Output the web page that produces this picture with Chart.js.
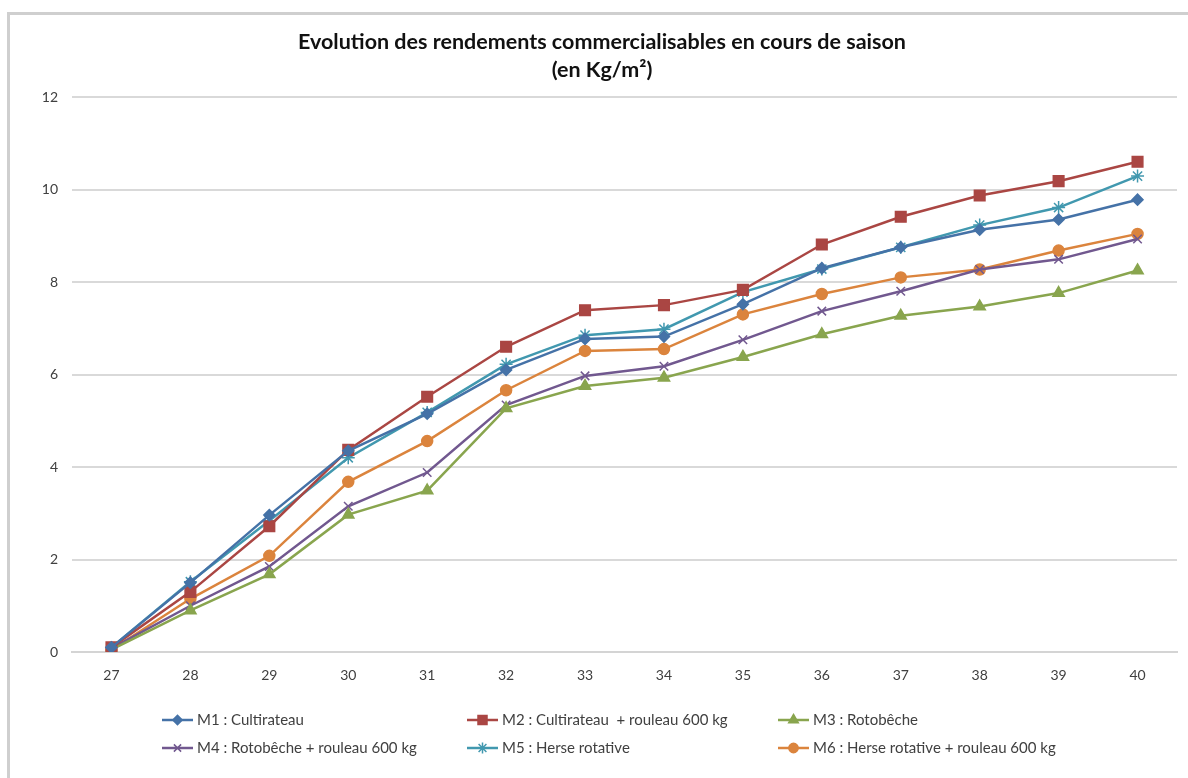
<!DOCTYPE html>
<html lang="fr">
<head>
<meta charset="utf-8">
<title>Evolution des rendements commercialisables</title>
<script src="https://cdn.jsdelivr.net/npm/chart.js@4.4.1/dist/chart.umd.min.js"></script>
<style>
  html, body { margin: 0; padding: 0; background: #fff; overflow: hidden; }
  #wrap { position: relative; width: 1188px; height: 778px; }
  #frame {
    position: absolute; left: 7px; top: 12px; width: 1200px; height: 800px;
    border: 3px solid #cfcfcf; box-sizing: border-box; pointer-events: none;
  }
  canvas { position: absolute; left: 0; top: 0; }
</style>
</head>
<body>
<div id="wrap">
  <canvas id="chart" width="1188" height="778"></canvas>
  <div id="frame"></div>
</div>
<script>
// Weeks of the season (x categories)
const weeks = ['27', '28', '29', '30', '31', '32', '33', '34', '35', '36', '37', '38', '39', '40'];

// Cumulative marketable yield, kg/m²
const m1 = [0.10, 1.50, 2.96, 4.35, 5.15, 6.10, 6.77, 6.82, 7.52, 8.30, 8.75, 9.13, 9.35, 9.78];
const m2 = [0.10, 1.30, 2.72, 4.37, 5.52, 6.60, 7.39, 7.50, 7.83, 8.81, 9.41, 9.87, 10.18, 10.60];
const m3 = [0.05, 0.90, 1.68, 2.97, 3.49, 5.27, 5.75, 5.93, 6.38, 6.87, 7.27, 7.47, 7.76, 8.25];
const m4 = [0.08, 1.00, 1.85, 3.15, 3.88, 5.34, 5.97, 6.18, 6.75, 7.37, 7.80, 8.27, 8.49, 8.93];
const m5 = [0.10, 1.52, 2.84, 4.20, 5.18, 6.22, 6.85, 6.98, 7.78, 8.28, 8.75, 9.23, 9.61, 10.29];
const m6 = [0.05, 1.15, 2.08, 3.68, 4.56, 5.66, 6.51, 6.55, 7.30, 7.74, 8.10, 8.27, 8.68, 9.04];

const seriesNames = [
  'M1 : Cultirateau',
  'M2 : Cultirateau  + rouleau 600 kg',
  'M3 : Rotobêche',
  'M4 : Rotobêche + rouleau 600 kg',
  'M5 : Herse rotative',
  'M6 : Herse rotative + rouleau 600 kg'
];

const yTicks = [0, 2, 4, 6, 8, 10, 12];

const titleLines = ['Evolution des rendements commercialisables en cours de saison', '(en Kg/m²)'];

const FONT = "Lato, 'Open Sans', 'DejaVu Sans', sans-serif";

const styles = [
  { color: '#4572A7', point: 'rectRot', radius: 5.5 },
  { color: '#AA4643', point: 'rect', radius: 7.5 },
  { color: '#89A54E', point: 'triangle', radius: 6.5 },
  { color: '#71588F', point: 'crossRot', radius: 6 },
  { color: '#4198AF', point: 'star', radius: 6.5 },
  { color: '#DB843D', point: 'circle', radius: 5.5 }
];

const values = [m1, m2, m3, m4, m5, m6];

const datasets = values.map((v, i) => ({
  label: seriesNames[i],
  data: v,
  borderColor: styles[i].color,
  backgroundColor: styles[i].color,
  borderWidth: 2.5,
  pointStyle: styles[i].point,
  pointRadius: styles[i].radius,
  pointHoverRadius: styles[i].radius,
  pointBorderWidth: 1.5,
  pointBorderColor: styles[i].color,
  pointBackgroundColor: styles[i].color,
  tension: 0
}));

// Two-line chart heading
const headingPlugin = {
  id: 'heading',
  afterDraw(chart) {
    const ctx = chart.ctx;
    ctx.save();
    ctx.fillStyle = '#111';
    ctx.font = `bold 21.5px ${FONT}`;
    ctx.textAlign = 'center';
    ctx.textBaseline = 'middle';
    ctx.fillText(titleLines[0], 602, 42);
    ctx.fillText(titleLines[1], 602, 70);
    ctx.restore();
  }
};

// Legend laid out as a 3-column grid under the plot
const gridLegendPlugin = {
  id: 'gridLegend',
  afterDraw(chart) {
    const ctx = chart.ctx;
    const cols = [162, 467, 778];
    const rows = [720, 748];
    ctx.save();
    chart.data.datasets.forEach((ds, i) => {
      const x = cols[i % 3];
      const y = rows[Math.floor(i / 3)];
      ctx.strokeStyle = ds.borderColor;
      ctx.fillStyle = ds.backgroundColor;
      ctx.lineWidth = 2.5;
      ctx.beginPath();
      ctx.moveTo(x, y);
      ctx.lineTo(x + 31, y);
      ctx.stroke();
      ctx.lineWidth = 1.5;
      Chart.helpers.drawPoint(ctx, {
        pointStyle: ds.pointStyle,
        radius: ds.pointRadius * 0.85,
        rotation: 0,
        borderWidth: 1.5
      }, x + 15.5, y);
      ctx.fillStyle = '#404040';
      ctx.font = `15px ${FONT}`;
      ctx.textAlign = 'left';
      ctx.textBaseline = 'middle';
      ctx.fillText(ds.label, x + 35, y);
    });
    ctx.restore();
  }
};

new Chart(document.getElementById('chart'), {
  type: 'line',
  data: { labels: weeks, datasets },
  plugins: [headingPlugin, gridLegendPlugin],
  options: {
    responsive: false,
    animation: false,
    events: [],
    layout: { padding: { left: 0, right: 11, top: 97, bottom: 0 } },
    plugins: {
      legend: { display: false },
      title: { display: false },
      tooltip: { enabled: false }
    },
    scales: {
      x: {
        offset: true,
        grid: { display: false },
        border: { display: true, color: '#d4d4d4', width: 2 },
        ticks: { color: '#404040', font: { family: FONT, size: 14 }, padding: 7, maxRotation: 0 },
        afterFit(scale) { scale.height = 126; }
      },
      y: {
        min: 0,
        max: 12,
        afterBuildTicks(scale) { scale.ticks = yTicks.map(v => ({ value: v })); },
        grid: { color: '#d9d9d9', lineWidth: 2, drawTicks: false },
        border: { display: false },
        ticks: { color: '#404040', font: { family: FONT, size: 14 }, padding: 14 },
        afterFit(scale) { scale.width = 72; }
      }
    }
  }
});
</script>
</body>
</html>
